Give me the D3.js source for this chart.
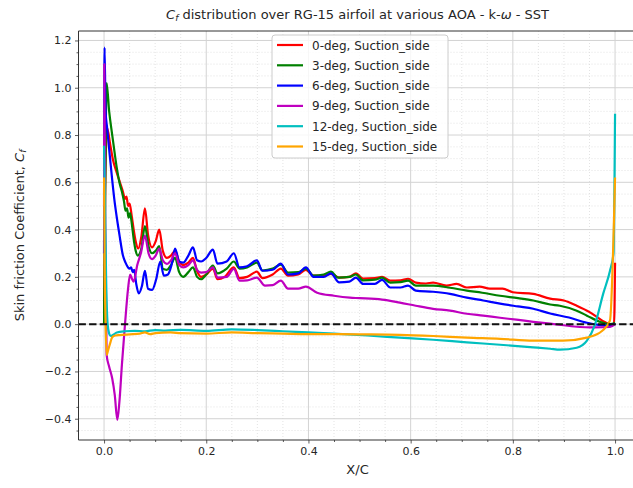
<!DOCTYPE html>
<html>
<head>
<meta charset="utf-8">
<script src="https://cdn.jsdelivr.net/npm/d3@7"></script>
<style>
  body { margin: 0; background: #fff; }
  text { font-family: "DejaVu Sans", sans-serif; fill: #262626; }
</style>
</head>
<body>
<div id="chart-area"></div>
<script>
// Cf along the suction side, [x/c, Cf]
var cf0 = [[0,0],[0.002,0.55],[0.006,0.83],[0.012,0.76],[0.018,0.69],[0.025,0.64],[0.031,0.60],[0.037,0.56],[0.041,0.53],[0.044,0.54],[0.047,0.50],[0.050,0.51],[0.054,0.46],[0.058,0.40],[0.062,0.35],[0.067,0.32],[0.073,0.37],[0.080,0.49],[0.086,0.38],[0.094,0.325],[0.101,0.35],[0.108,0.40],[0.115,0.31],[0.123,0.28],[0.131,0.29],[0.139,0.31],[0.147,0.265],[0.155,0.25],[0.165,0.26],[0.174,0.28],[0.182,0.225],[0.19,0.20],[0.200,0.21],[0.213,0.235],[0.222,0.19],[0.236,0.20],[0.254,0.24],[0.265,0.195],[0.28,0.20],[0.299,0.222],[0.31,0.195],[0.33,0.21],[0.346,0.235],[0.36,0.205],[0.38,0.21],[0.395,0.23],[0.41,0.205],[0.43,0.205],[0.444,0.213],[0.46,0.197],[0.48,0.2],[0.493,0.215],[0.507,0.193],[0.53,0.195],[0.544,0.2],[0.56,0.184],[0.58,0.185],[0.595,0.192],[0.61,0.176],[0.63,0.172],[0.644,0.176],[0.67,0.163],[0.69,0.17],[0.71,0.155],[0.735,0.159],[0.755,0.15],[0.78,0.15],[0.80,0.135],[0.84,0.128],[0.873,0.108],[0.90,0.1],[0.925,0.078],[0.951,0.05],[0.975,0.015],[0.99,0.0],[0.998,0.0],[1.0,0.26]];
var cf3 = [[0,0],[0.002,0.5],[0.005,1.02],[0.010,0.90],[0.016,0.80],[0.021,0.72],[0.025,0.66],[0.030,0.60],[0.035,0.56],[0.039,0.52],[0.042,0.48],[0.045,0.49],[0.048,0.45],[0.051,0.47],[0.054,0.43],[0.058,0.36],[0.062,0.31],[0.066,0.29],[0.073,0.32],[0.080,0.415],[0.087,0.33],[0.094,0.30],[0.101,0.31],[0.108,0.33],[0.115,0.235],[0.123,0.23],[0.131,0.25],[0.139,0.28],[0.147,0.22],[0.155,0.20],[0.165,0.22],[0.174,0.24],[0.182,0.20],[0.19,0.19],[0.200,0.21],[0.213,0.248],[0.222,0.215],[0.24,0.235],[0.254,0.265],[0.265,0.235],[0.28,0.24],[0.299,0.26],[0.31,0.227],[0.33,0.235],[0.346,0.252],[0.36,0.218],[0.38,0.22],[0.395,0.235],[0.41,0.205],[0.43,0.21],[0.444,0.222],[0.458,0.197],[0.48,0.2],[0.493,0.21],[0.507,0.185],[0.53,0.188],[0.544,0.197],[0.56,0.176],[0.58,0.178],[0.595,0.184],[0.61,0.163],[0.644,0.163],[0.677,0.154],[0.71,0.142],[0.74,0.133],[0.775,0.12],[0.81,0.11],[0.84,0.1],[0.873,0.083],[0.892,0.078],[0.925,0.057],[0.945,0.036],[0.97,0.01],[0.99,0.0],[1.0,0.005]];
var cf6 = [[0,0.3],[0.001,1.17],[0.003,0.9],[0.006,0.83],[0.010,0.74],[0.015,0.63],[0.020,0.53],[0.025,0.45],[0.030,0.38],[0.037,0.29],[0.042,0.26],[0.047,0.24],[0.050,0.235],[0.053,0.24],[0.056,0.22],[0.059,0.23],[0.063,0.17],[0.068,0.13],[0.074,0.16],[0.080,0.225],[0.086,0.15],[0.094,0.145],[0.102,0.19],[0.110,0.265],[0.117,0.205],[0.125,0.21],[0.132,0.25],[0.139,0.32],[0.147,0.265],[0.155,0.26],[0.165,0.29],[0.174,0.325],[0.182,0.27],[0.19,0.265],[0.200,0.28],[0.213,0.315],[0.222,0.256],[0.24,0.265],[0.254,0.30],[0.265,0.24],[0.28,0.245],[0.299,0.27],[0.31,0.226],[0.33,0.23],[0.346,0.256],[0.36,0.21],[0.38,0.215],[0.395,0.24],[0.41,0.20],[0.43,0.2],[0.444,0.215],[0.46,0.177],[0.48,0.18],[0.493,0.197],[0.507,0.17],[0.53,0.17],[0.544,0.187],[0.56,0.155],[0.58,0.155],[0.595,0.163],[0.61,0.142],[0.644,0.137],[0.677,0.128],[0.71,0.112],[0.742,0.1],[0.775,0.087],[0.81,0.075],[0.84,0.065],[0.873,0.045],[0.91,0.028],[0.945,0.006],[0.984,-0.006],[1.0,0.0]];
var cf9 = [[0,0.5],[0.0005,1.10],[0.002,0.5],[0.005,-0.13],[0.010,-0.18],[0.016,-0.23],[0.021,-0.30],[0.026,-0.405],[0.030,-0.33],[0.035,-0.17],[0.041,0.0],[0.047,0.15],[0.051,0.21],[0.055,0.19],[0.058,0.18],[0.065,0.25],[0.072,0.30],[0.080,0.375],[0.087,0.30],[0.094,0.275],[0.101,0.29],[0.108,0.32],[0.115,0.27],[0.123,0.255],[0.131,0.27],[0.139,0.30],[0.147,0.25],[0.155,0.24],[0.165,0.25],[0.174,0.27],[0.182,0.23],[0.19,0.218],[0.200,0.22],[0.213,0.24],[0.222,0.197],[0.24,0.20],[0.254,0.234],[0.265,0.184],[0.28,0.185],[0.299,0.197],[0.315,0.163],[0.33,0.165],[0.346,0.184],[0.36,0.15],[0.38,0.15],[0.395,0.159],[0.417,0.133],[0.45,0.12],[0.481,0.112],[0.50,0.11],[0.544,0.104],[0.579,0.091],[0.61,0.078],[0.644,0.065],[0.677,0.057],[0.71,0.044],[0.742,0.036],[0.775,0.027],[0.807,0.019],[0.84,0.01],[0.873,0.002],[0.92,-0.01],[0.96,-0.014],[0.99,-0.012],[1.0,0.0]];
var cf12 = [[0,0.755],[0.002,0.5],[0.004,0.2],[0.007,0.0],[0.010,-0.04],[0.013,-0.05],[0.018,-0.045],[0.025,-0.035],[0.04,-0.03],[0.06,-0.028],[0.08,-0.03],[0.1,-0.025],[0.12,-0.027],[0.15,-0.024],[0.2,-0.028],[0.25,-0.022],[0.3,-0.025],[0.35,-0.03],[0.4,-0.035],[0.45,-0.04],[0.515,-0.048],[0.579,-0.057],[0.644,-0.066],[0.71,-0.077],[0.775,-0.087],[0.84,-0.098],[0.873,-0.104],[0.892,-0.108],[0.925,-0.10],[0.945,-0.07],[0.96,-0.006],[0.977,0.13],[0.99,0.225],[0.997,0.3],[1.0,0.89]];
var cf15 = [[0,0.62],[0.001,0.3],[0.003,0.0],[0.005,-0.13],[0.008,-0.11],[0.012,-0.08],[0.016,-0.055],[0.022,-0.048],[0.03,-0.046],[0.05,-0.043],[0.07,-0.04],[0.08,-0.035],[0.09,-0.042],[0.1,-0.038],[0.13,-0.035],[0.15,-0.038],[0.2,-0.04],[0.25,-0.035],[0.3,-0.038],[0.35,-0.04],[0.4,-0.042],[0.45,-0.042],[0.5,-0.043],[0.579,-0.045],[0.644,-0.05],[0.71,-0.057],[0.775,-0.062],[0.84,-0.07],[0.898,-0.07],[0.945,-0.057],[0.975,-0.028],[0.99,0.015],[1.0,0.62]];

var seriesNames = ["0-deg, Suction_side", "3-deg, Suction_side", "6-deg, Suction_side",
                   "9-deg, Suction_side", "12-deg, Suction_side", "15-deg, Suction_side"];
var seriesData = [cf0, cf3, cf6, cf9, cf12, cf15];
var colors = ["#ff0000", "#008000", "#0000ff", "#bf00bf", "#00bfbf", "#ffa500"];

var xTicks = [0.0, 0.2, 0.4, 0.6, 0.8, 1.0];
var yTicks = [-0.4, -0.2, 0.0, 0.2, 0.4, 0.6, 0.8, 1.0, 1.2];

var W = 633, H = 488;
var box = { x0: 78.5, x1: 640.6, y0: 31, y1: 440 };

var svg = d3.select("#chart-area")
    .append("svg")
    .attr("width", W)
    .attr("height", H);

// Scales
var x = d3.scaleLinear().domain([-0.05, 1.05]).range([box.x0, box.x1]);
var y = d3.scaleLinear().domain([-0.49, 1.24]).range([box.y1, box.y0]);

svg.append("clipPath").attr("id", "plot-clip")
    .append("rect")
    .attr("x", box.x0).attr("y", box.y0)
    .attr("width", box.x1 - box.x0).attr("height", box.y1 - box.y0);

// Minor grid (dotted)
var xMinor = d3.range(0, 21).map(function(i) { return i * 0.05; })
    .filter(function(v) { return Math.round(v * 100) % 20 !== 0; });
var yMinor = d3.range(-9, 25).map(function(i) { return i * 0.05; })
    .filter(function(v) { return Math.abs(Math.round(v * 100)) % 20 !== 0; });

var grid = svg.append("g").attr("clip-path", "url(#plot-clip)");
grid.selectAll(".xminor").data(xMinor).enter().append("line")
    .attr("x1", function(d) { return x(d); }).attr("x2", function(d) { return x(d); })
    .attr("y1", box.y0).attr("y2", box.y1)
    .attr("stroke", "#dcdcdc").attr("stroke-width", 0.8)
    .attr("stroke-dasharray", "1,2");
grid.selectAll(".yminor").data(yMinor).enter().append("line")
    .attr("y1", function(d) { return y(d); }).attr("y2", function(d) { return y(d); })
    .attr("x1", box.x0).attr("x2", box.x1)
    .attr("stroke", "#dcdcdc").attr("stroke-width", 0.8)
    .attr("stroke-dasharray", "1,2");

// Major grid
grid.selectAll(".xmajor").data(xTicks).enter().append("line")
    .attr("x1", function(d) { return x(d); }).attr("x2", function(d) { return x(d); })
    .attr("y1", box.y0).attr("y2", box.y1)
    .attr("stroke", "#d3d3d3").attr("stroke-width", 1);
grid.selectAll(".ymajor").data(yTicks).enter().append("line")
    .attr("y1", function(d) { return y(d); }).attr("y2", function(d) { return y(d); })
    .attr("x1", box.x0).attr("x2", box.x1)
    .attr("stroke", "#d3d3d3").attr("stroke-width", 1);

// Curves
var line = d3.line()
    .curve(d3.curveMonotoneX)
    .x(function(d) { return x(d[0]); })
    .y(function(d) { return y(d[1]); });

var curves = svg.append("g").attr("clip-path", "url(#plot-clip)");
seriesData.forEach(function(s, i) {
    curves.append("path")
        .datum(s)
        .attr("d", line)
        .attr("fill", "none")
        .attr("stroke", colors[i])
        .attr("stroke-width", 2.2)
        .attr("stroke-linejoin", "round");
});

// zero line
curves.append("line")
    .attr("x1", box.x0).attr("x2", box.x1)
    .attr("y1", y(0)).attr("y2", y(0))
    .attr("stroke", "#111").attr("stroke-width", 2)
    .attr("stroke-dasharray", "7.4,3.2");

// Axes
var fmt = function(d) { return d3.format(".1f")(d).replace("-", "\u2212"); };
var xAxis = svg.append("g")
    .attr("transform", "translate(0," + box.y1 + ")")
    .call(d3.axisBottom(x).tickValues(xTicks).tickFormat(fmt).tickSize(3.5).tickPadding(3.5));
var xAxisMinor = svg.append("g")
    .attr("transform", "translate(0," + box.y1 + ")")
    .call(d3.axisBottom(x).tickValues(xMinor).tickFormat("").tickSize(2).tickSizeOuter(0));
var yAxis = svg.append("g")
    .attr("transform", "translate(" + box.x0 + ",0)")
    .call(d3.axisLeft(y).tickValues(yTicks).tickFormat(fmt).tickSize(3.5).tickPadding(3.5));
var yAxisMinor = svg.append("g")
    .attr("transform", "translate(" + box.x0 + ",0)")
    .call(d3.axisLeft(y).tickValues(yMinor).tickFormat("").tickSize(2).tickSizeOuter(0));

[xAxis, yAxis, xAxisMinor, yAxisMinor].forEach(function(a) {
    a.select(".domain").remove();
    a.selectAll("line").attr("stroke", "#333").attr("stroke-width", 0.8);
    a.selectAll("text").attr("font-size", "11px")
        .style("font-family", "DejaVu Sans, sans-serif").attr("fill", "#262626");
});

// spines
svg.append("line").attr("x1", box.x0).attr("x2", box.x0).attr("y1", box.y0).attr("y2", box.y1)
    .attr("stroke", "#333").attr("stroke-width", 1);
svg.append("line").attr("x1", box.x0).attr("x2", box.x1).attr("y1", box.y1).attr("y2", box.y1)
    .attr("stroke", "#333").attr("stroke-width", 1);
svg.append("line").attr("x1", box.x0).attr("x2", box.x1).attr("y1", box.y0).attr("y2", box.y0)
    .attr("stroke", "#333").attr("stroke-width", 1);

// Title
var title = svg.append("text")
    .attr("x", (box.x0 + box.x1) / 2 - 2)
    .attr("y", 19)
    .attr("text-anchor", "middle")
    .attr("font-size", "13px");
title.append("tspan").attr("font-style", "italic").text("C");
title.append("tspan").attr("font-style", "italic").attr("font-size", "9px").attr("dy", 2).text("f");
title.append("tspan").attr("dy", -2).text(" distribution over RG-15 airfoil at various AOA - k-");
title.append("tspan").attr("font-style", "italic").text("\u03c9");
title.append("tspan").text(" - SST");

// Labels
svg.append("text")
    .attr("x", (box.x0 + box.x1) / 2 - 2)
    .attr("y", 474)
    .attr("text-anchor", "middle")
    .attr("font-size", "13px")
    .text("X/C");

var yLabel = svg.append("text")
    .attr("transform", "translate(24," + ((box.y0 + box.y1) / 2) + ") rotate(-90)")
    .attr("text-anchor", "middle")
    .attr("font-size", "13px");
yLabel.append("tspan").text("Skin friction Coefficient, ");
yLabel.append("tspan").attr("font-style", "italic").text("C");
yLabel.append("tspan").attr("font-style", "italic").attr("font-size", "9px").attr("dy", 2).text("f");

// Legend
var legend = svg.append("g").attr("transform", "translate(272,35)");
legend.append("rect")
    .attr("width", 176).attr("height", 123)
    .attr("rx", 3)
    .attr("fill", "#fff").attr("fill-opacity", 0.8)
    .attr("stroke", "#cccccc");
seriesNames.forEach(function(name, i) {
    var ly = 10 + i * 20.3;
    legend.append("line")
        .attr("x1", 5).attr("x2", 31)
        .attr("y1", ly).attr("y2", ly)
        .attr("stroke", colors[i]).attr("stroke-width", 2.2);
    legend.append("text")
        .attr("x", 40).attr("y", ly + 4.5)
        .attr("font-size", "12px")
        .text(name);
});
</script>
</body>
</html>
